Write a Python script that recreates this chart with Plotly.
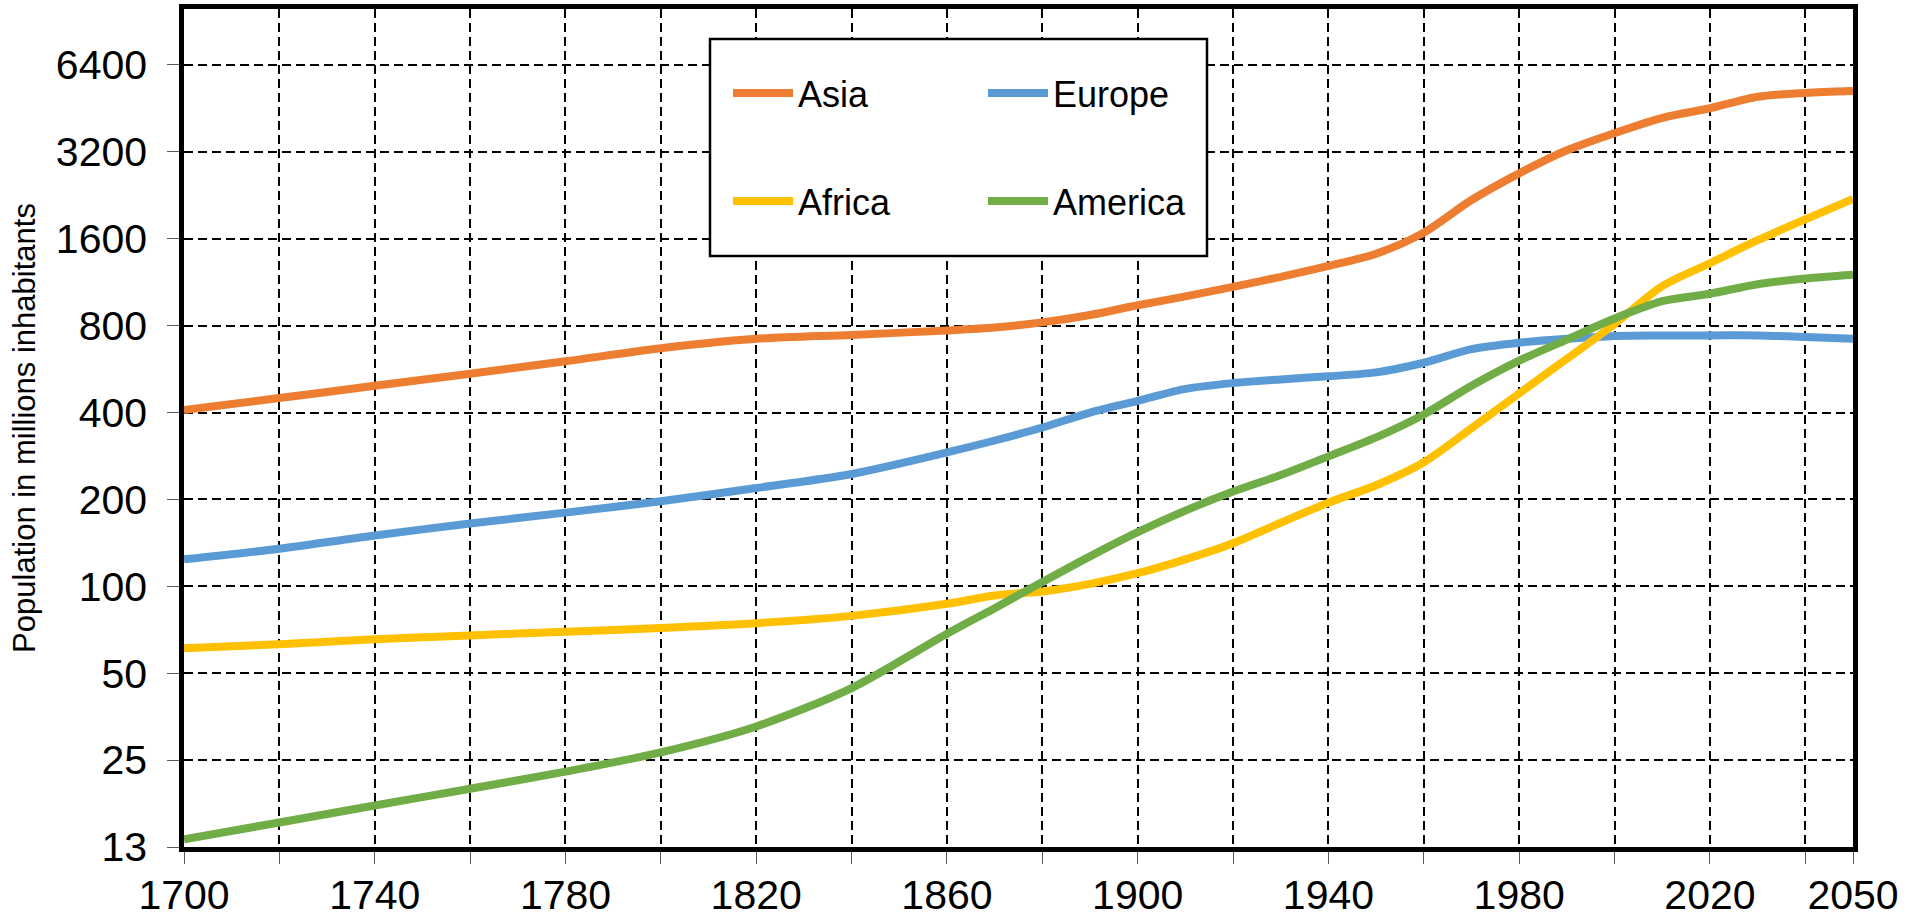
import math
import plotly.graph_objects as go

years = [1700, 1720, 1740, 1760, 1780, 1800, 1820, 1840, 1860, 1870, 1880, 1890,
         1900, 1910, 1920, 1930, 1940, 1950, 1960, 1970, 1980, 1990, 2000, 2010,
         2020, 2030, 2040, 2050]

asia = [408, 449, 495, 545, 602, 668, 720, 743, 770, 788, 821, 871,
        941, 1010, 1090, 1181, 1288, 1420, 1680, 2179, 2696, 3240, 3716, 4199,
        4531, 4967, 5121, 5200]
europe = [124, 135, 150, 165, 180, 197, 219, 245, 291, 320, 355, 400,
          439, 483, 506, 521, 534, 551, 595, 663, 698, 720, 737, 740,
          740, 740, 731, 720]
africa = [61, 63, 65.6, 67.6, 69.6, 71.7, 74.5, 79, 87, 93, 96, 102,
          111, 124, 141, 166, 195, 224, 269, 353, 466, 614, 810, 1096,
          1316, 1581, 1868, 2198]
america = [13.3, 15.2, 17.4, 19.9, 22.8, 26.6, 32.7, 44.4, 68.5, 84, 103.5, 127,
           154, 183, 213, 243, 282, 328, 394, 495, 605, 716, 847, 972,
           1032, 1113, 1165, 1201]

series_names = ["Asia", "Europe", "Africa", "America"]
series_colors = ["#ED7D31", "#5B9BD5", "#FFC000", "#70AD47"]
series_values = [asia, europe, africa, america]
series_legend = ["legend", "legend", "legend2", "legend2"]

x_tickvals = [1700, 1740, 1780, 1820, 1860, 1900, 1940, 1980, 2020, 2050]
x_ticktext = [str(v) for v in x_tickvals]
y_tickvals = [12.5, 25, 50, 100, 200, 400, 800, 1600, 3200, 6400]
y_ticktext = ["13", "25", "50", "100", "200", "400", "800", "1600", "3200", "6400"]

FONT = "Arial, 'Liberation Sans', sans-serif"

fig = go.Figure()
for name, color, vals, lg in zip(series_names, series_colors, series_values, series_legend):
    fig.add_trace(go.Scatter(
        x=years, y=vals, name=name, mode="lines",
        line=dict(color=color, width=8, shape="spline", smoothing=0.8),
        legend=lg,
    ))

W, H = 1921, 918
L, R, T, B = 184, 68, 9, 71
pw, ph = W - L - R, H - T - B

def px_x(p):
    return (p - L) / pw

def px_y(p):
    return (H - B - p) / ph

legend_common = dict(
    orientation="h", xanchor="left", yanchor="middle",
    bgcolor="rgba(0,0,0,0)", borderwidth=0,
    font=dict(family=FONT, size=36, color="black"),
    entrywidth=180, entrywidthmode="pixels", itemwidth=60,
)

fig.update_layout(
    width=W, height=H,
    margin=dict(l=L, r=R, t=T, b=B, autoexpand=False),
    paper_bgcolor="white", plot_bgcolor="white",
    font=dict(family=FONT, color="black"),
    showlegend=True,
    legend=dict(x=px_x(728), y=px_y(93), **legend_common),
    legend2=dict(x=px_x(728), y=px_y(201), **legend_common),
    shapes=[dict(type="rect", xref="paper", yref="paper",
                 x0=px_x(710), x1=px_x(1207), y0=px_y(256), y1=px_y(39),
                 line=dict(color="black", width=2.5), fillcolor="white", layer="above")],
)

grid_common = dict(showgrid=True, gridcolor="black", gridwidth=2, griddash="9px,5px")

fig.update_xaxes(
    range=[1700, 2050], automargin=False,
    tickmode="array", tickvals=x_tickvals, ticktext=x_ticktext,
    tickfont=dict(family=FONT, size=41, color="black"),
    ticks="outside", ticklen=12, tickwidth=1.2, tickcolor="#595959",
    ticklabelstandoff=-4,
    minor=dict(tickmode="linear", tick0=1700, dtick=20, ticks="outside", ticklen=12,
               tickwidth=1.2, tickcolor="#595959", **grid_common),
    showline=True, linecolor="black", linewidth=4.5, mirror=True,
    zeroline=False,
    **grid_common,
)

fig.update_yaxes(
    type="log", automargin=False,
    range=[math.log10(12.5), math.log10(10000)],
    tickmode="array", tickvals=y_tickvals, ticktext=y_ticktext,
    tickfont=dict(family=FONT, size=41, color="black"),
    ticks="outside", ticklen=12, tickwidth=1.2, tickcolor="#595959",
    ticklabelstandoff=12,
    showline=True, linecolor="black", linewidth=4.5, mirror=True,
    zeroline=False,
    title=dict(text="Population in millions inhabitants",
               font=dict(family=FONT, size=31, color="black"), standoff=12),
    **grid_common,
)

fig.write_html("out.html", config={"displayModeBar": False},
               post_script="document.body.style.margin='0';document.body.style.overflow='hidden';")
